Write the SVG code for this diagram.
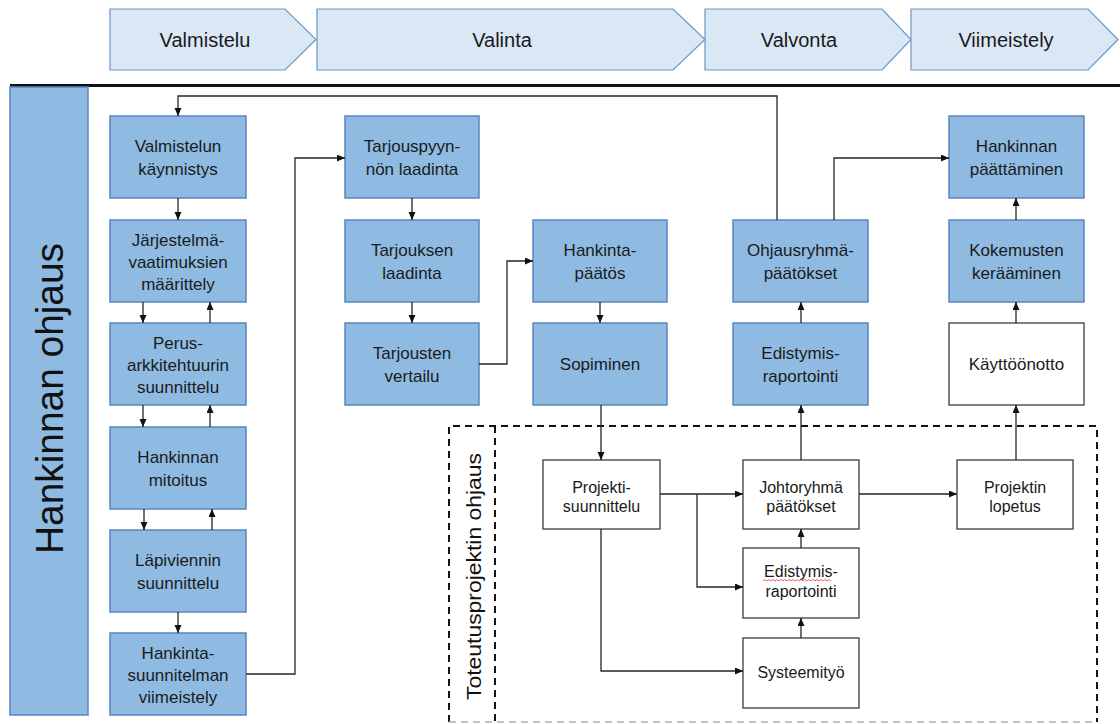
<svg xmlns="http://www.w3.org/2000/svg" width="1120" height="724" viewBox="0 0 1120 724">
  <style>
    .phase { fill: #dae7f5; stroke: #6f95c4; stroke-width: 1.2; }
    .phase-t { font-family: "Liberation Sans", Arial, sans-serif; font-size: 20px; fill: #1a1a1a; text-anchor: middle; }
    .blue { fill: #8fbbe3; stroke: #5a86bf; stroke-width: 1.5; }
    .white { fill: #ffffff; stroke: #3c3c3c; stroke-width: 1.3; }
    .t { font-family: "Liberation Sans", Arial, sans-serif; font-size: 17px; fill: #1a1a1a; text-anchor: middle; }
    .ti { font-family: "Liberation Sans", Arial, sans-serif; font-size: 16px; fill: #1a1a1a; text-anchor: middle; }
    .conn path { fill: none; stroke: #262626; stroke-width: 1.3; marker-end: url(#arr); }
    .dash { fill: none; stroke: #111; stroke-width: 2; stroke-dasharray: 7 5; }
  </style>
  <defs>
    <marker id="arr" markerUnits="userSpaceOnUse" markerWidth="9" markerHeight="8" refX="8" refY="3.5" orient="auto">
      <path d="M0,0 L8,3.5 L0,7 Z" fill="#111"/>
    </marker>
  </defs>

  <rect width="1120" height="724" fill="#ffffff"/>

  <!-- phase ribbon -->
  <g id="phases">
    <g id="phase-valmistelu">
      <path class="phase" d="M110,9 H285 L316,39.5 L285,70 H110 Z"/>
      <text class="phase-t" x="205" y="47">Valmistelu</text>
    </g>
    <g id="phase-valinta">
      <path class="phase" d="M317,9 H673 L705,39.5 L673,70 H317 Z"/>
      <text class="phase-t" x="502" y="47">Valinta</text>
    </g>
    <g id="phase-valvonta">
      <path class="phase" d="M705,9 H882 L911,39.5 L882,70 H705 Z"/>
      <text class="phase-t" x="799" y="47">Valvonta</text>
    </g>
    <g id="phase-viimeistely">
      <path class="phase" d="M911,9 H1088 L1118,39.5 L1088,70 H911 Z"/>
      <text class="phase-t" x="1006" y="47">Viimeistely</text>
    </g>
  </g>

  <line x1="10" y1="85.5" x2="1120" y2="85.5" stroke="#111" stroke-width="3"/>

  <!-- side band -->
  <g id="hankinnan-ohjaus">
    <rect class="blue" x="10" y="87" width="78" height="628"/>
    <text transform="translate(63,398.5) rotate(-90)" font-family="'Liberation Sans', Arial, sans-serif" font-size="39" fill="#111" text-anchor="middle" textLength="311" lengthAdjust="spacingAndGlyphs">Hankinnan ohjaus</text>
  </g>

  <!-- project steering area -->
  <g id="toteutusprojekti">
    <path class="dash" d="M449,722 V426 H1097 V722"/>
    <line x1="449" y1="722" x2="1097" y2="722" stroke="#b0b0b0" stroke-width="1.5" stroke-dasharray="7 5"/>
    <line class="dash" x1="495" y1="426" x2="495" y2="722"/>
    <text transform="translate(481,576.5) rotate(-90)" font-family="'Liberation Sans', Arial, sans-serif" font-size="21" fill="#111" text-anchor="middle" textLength="247" lengthAdjust="spacingAndGlyphs">Toteutusprojektin ohjaus</text>
  </g>

  <!-- column A -->
  <g id="valmistelun-kaynnistys">
    <rect class="blue" x="110" y="116" width="136" height="82"/>
    <text class="t" x="178" y="152">Valmistelun</text>
    <text class="t" x="178" y="175">käynnistys</text>
  </g>
  <g id="jarjestelmavaatimukset">
    <rect class="blue" x="110" y="220" width="136" height="82"/>
    <text class="t" x="178" y="246">Järjestelmä-</text>
    <text class="t" x="178" y="268">vaatimuksien</text>
    <text class="t" x="178" y="290">määrittely</text>
  </g>
  <g id="perusarkkitehtuuri">
    <rect class="blue" x="110" y="323" width="136" height="82"/>
    <text class="t" x="178" y="349">Perus-</text>
    <text class="t" x="178" y="371">arkkitehtuurin</text>
    <text class="t" x="178" y="393">suunnittelu</text>
  </g>
  <g id="hankinnan-mitoitus">
    <rect class="blue" x="110" y="427" width="136" height="82"/>
    <text class="t" x="178" y="463">Hankinnan</text>
    <text class="t" x="178" y="486">mitoitus</text>
  </g>
  <g id="lapiviennin-suunnittelu">
    <rect class="blue" x="110" y="530" width="136" height="82"/>
    <text class="t" x="178" y="566">Läpiviennin</text>
    <text class="t" x="178" y="589">suunnittelu</text>
  </g>
  <g id="hankintasuunnitelman-viimeistely">
    <rect class="blue" x="110" y="633" width="136" height="82"/>
    <text class="t" x="178" y="659">Hankinta-</text>
    <text class="t" x="178" y="681">suunnitelman</text>
    <text class="t" x="178" y="703">viimeistely</text>
  </g>

  <!-- column B -->
  <g id="tarjouspyynnon-laadinta">
    <rect class="blue" x="345" y="116" width="134" height="82"/>
    <text class="t" x="412" y="152">Tarjouspyyn-</text>
    <text class="t" x="412" y="175">nön laadinta</text>
  </g>
  <g id="tarjouksen-laadinta">
    <rect class="blue" x="345" y="220" width="134" height="82"/>
    <text class="t" x="412" y="256">Tarjouksen</text>
    <text class="t" x="412" y="279">laadinta</text>
  </g>
  <g id="tarjousten-vertailu">
    <rect class="blue" x="345" y="323" width="134" height="82"/>
    <text class="t" x="412" y="359">Tarjousten</text>
    <text class="t" x="412" y="382">vertailu</text>
  </g>

  <!-- column C -->
  <g id="hankintapaatos">
    <rect class="blue" x="533" y="220" width="134" height="82"/>
    <text class="t" x="600" y="256">Hankinta-</text>
    <text class="t" x="600" y="279">päätös</text>
  </g>
  <g id="sopiminen">
    <rect class="blue" x="533" y="323" width="134" height="82"/>
    <text class="t" x="600" y="370">Sopiminen</text>
  </g>

  <!-- column D -->
  <g id="ohjausryhmapaatokset">
    <rect class="blue" x="733" y="220" width="135" height="82"/>
    <text class="t" x="800.5" y="256">Ohjausryhmä-</text>
    <text class="t" x="800.5" y="279">päätökset</text>
  </g>
  <g id="edistymisraportointi-ohjaus">
    <rect class="blue" x="733" y="323" width="135" height="82"/>
    <text class="t" x="800.5" y="359">Edistymis-</text>
    <text class="t" x="800.5" y="382">raportointi</text>
  </g>

  <!-- column E -->
  <g id="hankinnan-paattaminen">
    <rect class="blue" x="949" y="116" width="135" height="82"/>
    <text class="t" x="1016.5" y="152">Hankinnan</text>
    <text class="t" x="1016.5" y="175">päättäminen</text>
  </g>
  <g id="kokemusten-keraaminen">
    <rect class="blue" x="949" y="220" width="135" height="82"/>
    <text class="t" x="1016.5" y="256">Kokemusten</text>
    <text class="t" x="1016.5" y="279">kerääminen</text>
  </g>
  <g id="kayttoonotto">
    <rect class="white" x="949" y="323" width="135" height="82"/>
    <text class="t" x="1016.5" y="370">Käyttöönotto</text>
  </g>

  <!-- project nodes -->
  <g id="projektisuunnittelu">
    <rect class="white" x="543" y="460" width="117" height="69"/>
    <text class="ti" x="601.5" y="493">Projekti-</text>
    <text class="ti" x="601.5" y="512">suunnittelu</text>
  </g>
  <g id="johtoryhmapaatokset">
    <rect class="white" x="743" y="460" width="116" height="69"/>
    <text class="ti" x="801" y="493">Johtoryhmä</text>
    <text class="ti" x="801" y="512">päätökset</text>
  </g>
  <g id="edistymisraportointi-projekti">
    <rect class="white" x="743" y="548" width="116" height="70"/>
    <text class="ti" x="801" y="577">Edistymis-</text>
    <path d="M763,581 l2,-1.5 l2,1.5 l2,-1.5 l2,1.5 l2,-1.5 l2,1.5 l2,-1.5 l2,1.5 l2,-1.5 l2,1.5 l2,-1.5 l2,1.5 l2,-1.5 l2,1.5 l2,-1.5 l2,1.5 l2,-1.5 l2,1.5 l2,-1.5 l2,1.5 l2,-1.5 l2,1.5 l2,-1.5 l2,1.5 l2,-1.5 l2,1.5 l2,-1.5 l2,1.5 l2,-1.5 l2,1.5 l2,-1.5 l2,1.5 l2,-1.5 l2,1.5" fill="none" stroke="#e0403c" stroke-width="0.8"/>
    <text class="ti" x="801" y="597">raportointi</text>
  </g>
  <g id="systeemityo">
    <rect class="white" x="743" y="638" width="116" height="70"/>
    <text class="ti" x="801" y="678">Systeemityö</text>
  </g>
  <g id="projektin-lopetus">
    <rect class="white" x="957" y="460" width="116" height="69"/>
    <text class="ti" x="1015" y="493">Projektin</text>
    <text class="ti" x="1015" y="512">lopetus</text>
  </g>

  <!-- connectors -->
  <g class="conn" id="connectors">
    <path d="M178,198 V220"/>
    <path d="M143,302 V323"/>
    <path d="M210,323 V302"/>
    <path d="M143,405 V427"/>
    <path d="M210,427 V405"/>
    <path d="M144,509 V530"/>
    <path d="M212,530 V509"/>
    <path d="M178,612 V633"/>
    <path d="M246,674 H295 V158 H345"/>
    <path d="M412,198 V220"/>
    <path d="M412,302 V323"/>
    <path d="M479,364 H507 V261 H533"/>
    <path d="M600,302 V323"/>
    <path d="M601,405 V460"/>
    <path d="M660,494 H743"/>
    <path d="M697,494 V587 H743"/>
    <path d="M601,529 V671 H743"/>
    <path d="M801,638 V618"/>
    <path d="M801,548 V529"/>
    <path d="M801,460 V405"/>
    <path d="M801,323 V302"/>
    <path d="M859,494 H957"/>
    <path d="M1016,460 V405"/>
    <path d="M1016,323 V302"/>
    <path d="M1016,220 V198"/>
    <path d="M834,220 V158 H949"/>
    <path d="M777,220 V96 H178 V116"/>
  </g>
</svg>
